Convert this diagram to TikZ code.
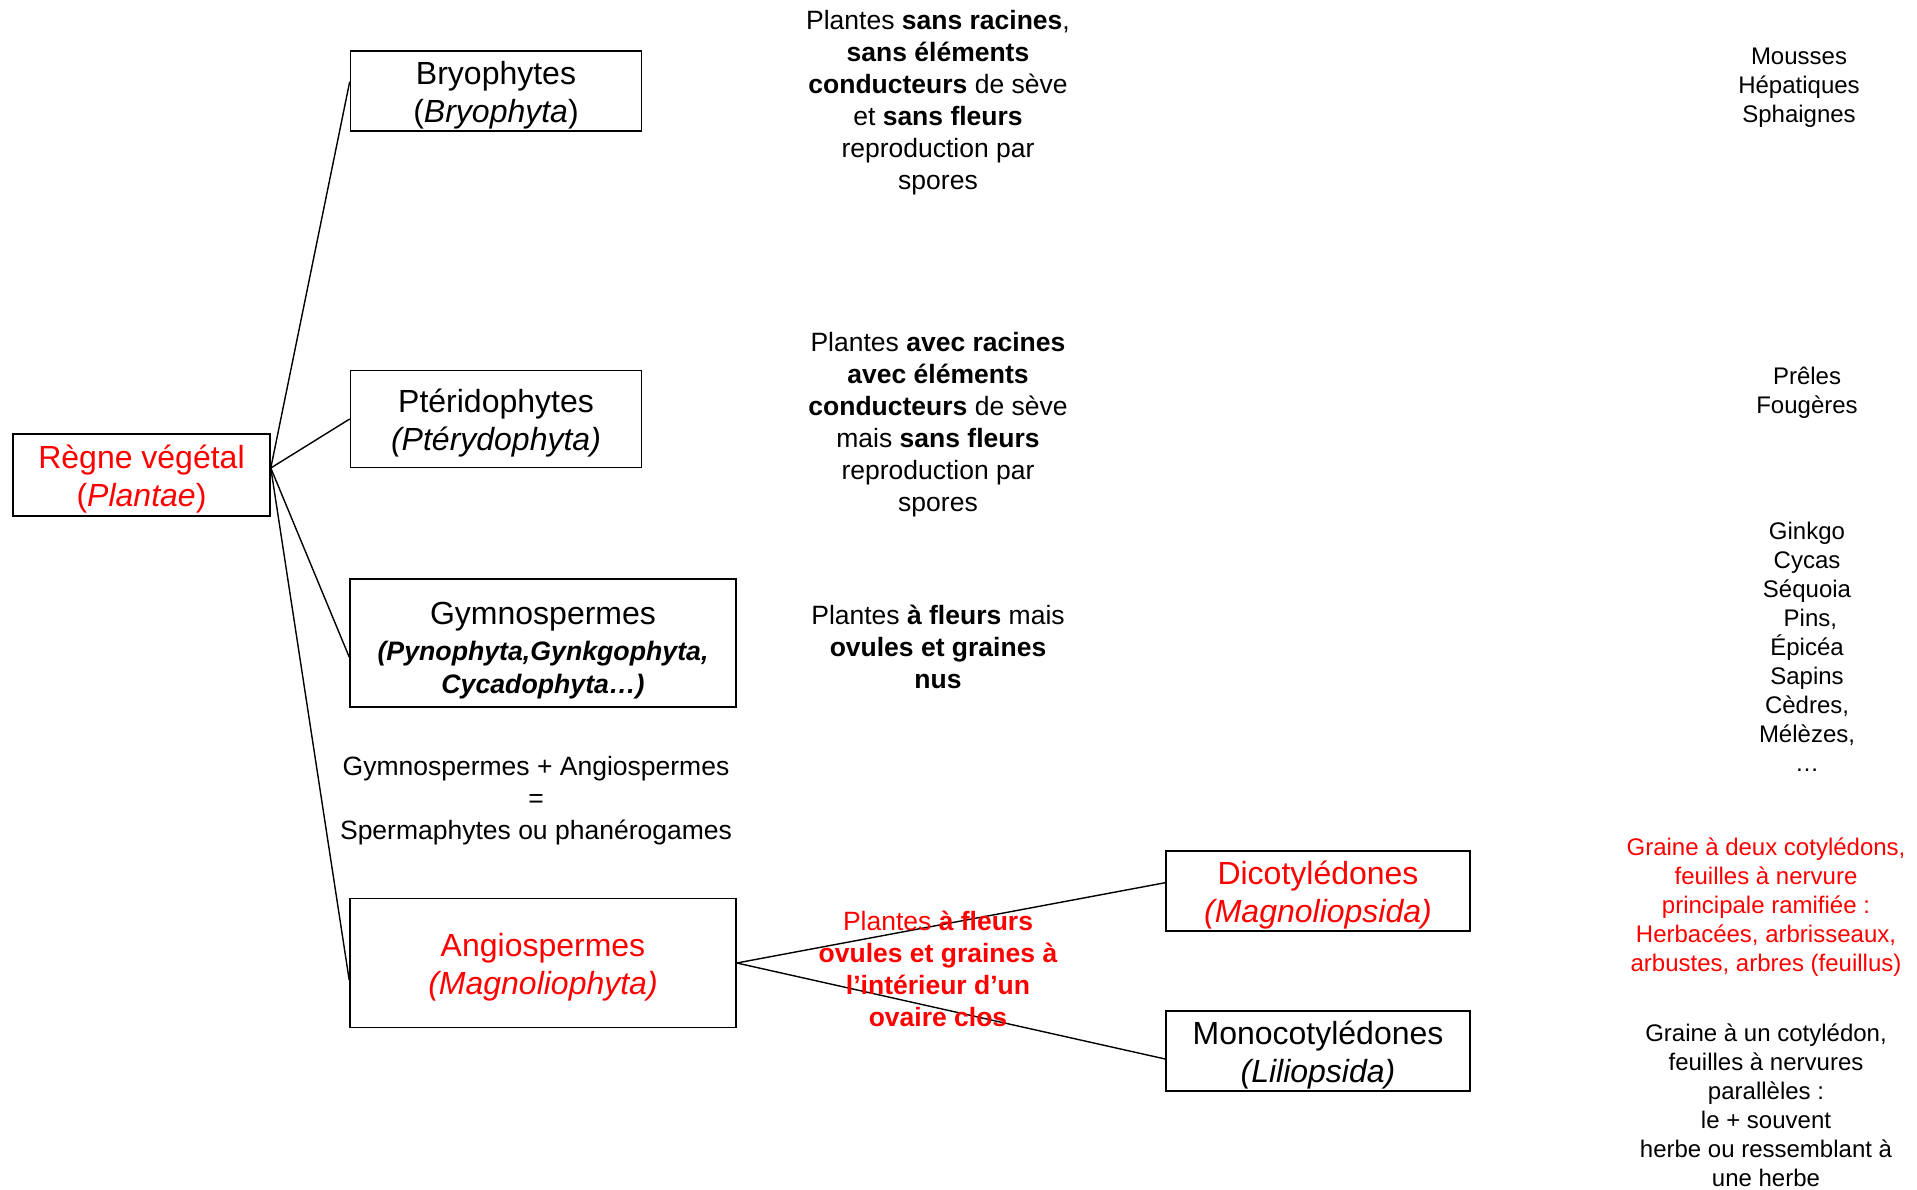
\documentclass[tikz,border=0pt]{standalone}
\usepackage{fontspec}
\setmainfont{Liberation Sans}
\newcommand\bstrut[1]{\rule{0pt}{#1}}
\begin{document}
\begin{tikzpicture}[x=1pt,y=-1pt,
  box/.style={draw=black, line width=1.6pt, inner sep=0pt, align=center,
    font=\fontsize{32}{38.5}\selectfont},
  link/.style={line width=1.4pt, draw=black},
  midtxt/.style={align=center, inner sep=0pt, font=\fontsize{26.5}{32}\selectfont},
  righttxt/.style={align=center, inner sep=0pt, font=\fontsize{24}{29}\selectfont},
]
\useasboundingbox (0,0) rectangle (1917,1190);

% boxes
\node[box, minimum width=257pt, minimum height=82pt, text=red] (regne) at (141.5,475)
  {\bstrut{32pt}Règne végétal\\(\textit{Plantae})};
\node[box, minimum width=291pt, minimum height=80pt] (bryo) at (496,91)
  {\bstrut{32pt}Bryophytes\\(\textit{Bryophyta})};
\node[box, minimum width=291pt, minimum height=97pt] (pter) at (496,419)
  {\bstrut{32pt}Ptéridophytes\\\textit{(Ptérydophyta)}};
\node[box, minimum width=386pt, minimum height=128pt] (gymno) at (543,643)
  {\bstrut{37pt}Gymnospermes\\[-2pt]{\fontsize{26.7}{32}\selectfont\bfseries\itshape (Pynophyta,Gynkgophyta,}\\[-6pt]{\fontsize{26.7}{32}\selectfont\bfseries\itshape Cycadophyta…)}};
\node[box, minimum width=386pt, minimum height=129pt, text=red] (angio) at (543,963)
  {\bstrut{32pt}Angiospermes\\\textit{(Magnoliophyta)}};
\node[box, minimum width=304pt, minimum height=80pt, text=red] (dico) at (1318,891)
  {\bstrut{32pt}Dicotylédones\\\textit{(Magnoliopsida)}};
\node[box, minimum width=304pt, minimum height=80pt] (mono) at (1318,1051)
  {\bstrut{32pt}Monocotylédones\\\textit{(Liliopsida)}};

% connectors
\coordinate (rj) at ([yshift=7pt]regne.east);
\draw[link] (rj) -- ([yshift=9.3pt]bryo.west);
\draw[link] (rj) -- (pter.west);
\draw[link] (rj) -- ([yshift=-14pt]gymno.west);
\draw[link] (rj) -- ([yshift=-17pt]angio.west);
\draw[link] (angio.east) -- ([yshift=8.3pt]dico.west);
\draw[link] (angio.east) -- ([yshift=-8pt]mono.west);

% middle column
\node[midtxt] (t1) at (938,103)
  {Plantes \textbf{sans racines},\\\textbf{sans éléments}\\\textbf{conducteurs} de sève\\et \textbf{sans fleurs}\\reproduction par\\spores};
\node[midtxt] (t2) at (938,424.5)
  {Plantes \textbf{avec racines}\\\textbf{avec éléments}\\\textbf{conducteurs} de sève\\mais \textbf{sans fleurs}\\reproduction par\\spores};
\node[midtxt] (t3) at (938,647)
  {Plantes \textbf{à fleurs} mais\\\textbf{ovules et graines}\\\textbf{nus}};
\node[midtxt, text=red] (t4) at (938,969)
  {Plantes \textbf{à fleurs}\\\textbf{ovules et graines à}\\\textbf{l’intérieur d’un}\\\textbf{ovaire clos}};
\node[midtxt] (sperm) at (536,801)
  {Gymnospermes + Angiospermes\\=\\Spermaphytes ou phanérogames};

% right column
\node[righttxt] (r1) at (1799,87.5) {Mousses\\Hépatiques\\Sphaignes};
\node[righttxt] (r2) at (1807,393) {Prêles\\Fougères};
\node[righttxt] (r3) at (1807,647)
  {Ginkgo\\Cycas\\Séquoia\\\ Pins,\\Épicéa\\Sapins\\Cèdres,\\Mélèzes,\\…};
\node[righttxt, text=red] (r4) at (1766,907)
  {Graine à deux cotylédons,\\feuilles à nervure\\principale ramifiée :\\Herbacées, arbrisseaux,\\arbustes, arbres (feuillus)};
\node[righttxt] (r5) at (1766,1105.5)
  {Graine à un cotylédon,\\feuilles à nervures\\parallèles :\\le + souvent\\herbe ou ressemblant à\\une herbe};
\end{tikzpicture}
\end{document}
